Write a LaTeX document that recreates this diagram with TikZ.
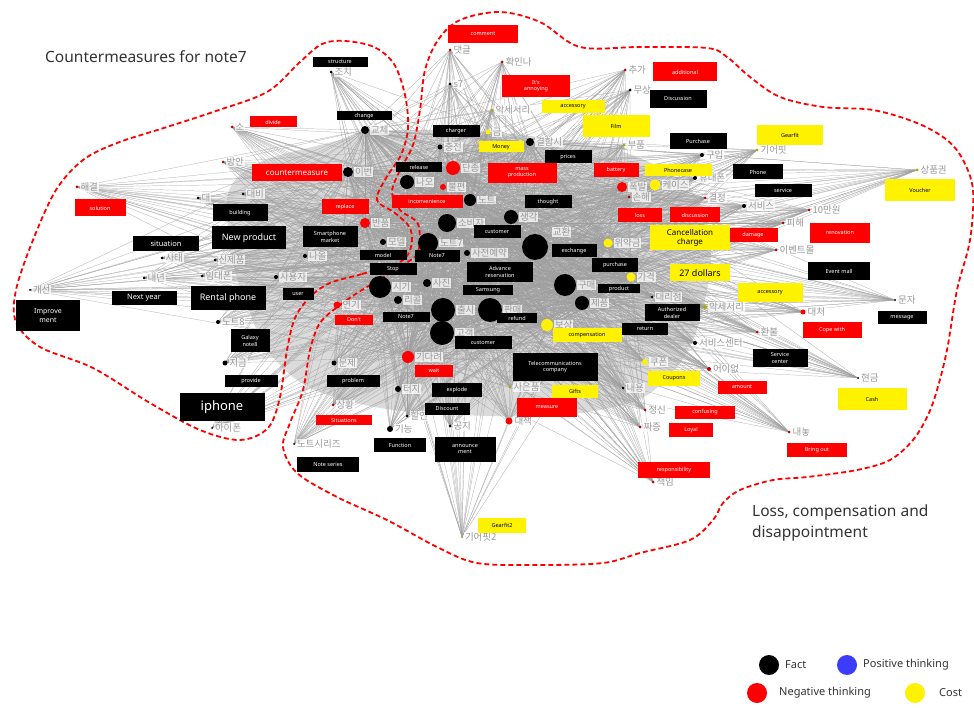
\documentclass[tikz,border=0pt]{standalone}
\usepackage{fontspec}
\newfontfamily\titlefont{Noto Sans}
\newfontfamily\kr{Noto Sans CJK KR}
\usetikzlibrary{backgrounds}
\colorlet{dred}{red!75!black}
\colorlet{oliv}{olive!70!yellow}
\definecolor{posblue}{RGB}{60,60,255}
\newcommand\kd[6]{%
  \node[kdot, fill=#5, minimum size=#4pt] (#1) at (#2,#3) {};
  \node[klab] (#1l) at ([xshift=1pt]#1.east) {#6};}
\newcommand\kdat[8]{%
  \node[kdot, fill=#5, minimum size=#4pt] (#1) at (#2,#3) {};
  \node[klab] (#1l) at (#7,#8) {#6};}
\newcommand\bx[7]{\node[#2, minimum width=#5pt, minimum height=#6pt] (#1) at (#3,#4) {#7};}
\begin{document}
\begin{tikzpicture}[x=1pt,y=-1pt,
  edge/.style={draw=gray!75, line width=0.22pt},
  kdot/.style={circle, inner sep=0pt, draw=none},
  klab/.style={font=\kr\fontsize{9.5}{10}\selectfont, text=gray!80, fill=white, fill opacity=0.75, text opacity=1, inner sep=0.6pt, anchor=west},
  fb/.style={rectangle, fill=black, text=white, inner sep=0.5pt, align=center, font=\titlefont\fontsize{5.5}{6.2}\selectfont},
  nb/.style={fb, fill=red},
  cb/.style={fb, fill=yellow, text=black},
  contour/.style={draw=red, line width=1.8pt, dash pattern=on 5pt off 3pt},
  ttl/.style={font=\titlefont\fontsize{15.5}{20}\selectfont, text=black!80, anchor=west, inner sep=0pt},
  leg/.style={font=\titlefont\fontsize{11}{13}\selectfont, text=black!80, anchor=west, inner sep=0pt},
  legdot/.style={circle, inner sep=0pt, minimum size=20pt}]
\useasboundingbox (0,0) rectangle (974,708);

% ---------- hubs ----------
\kdat{h1}{535}{247}{26}{black}{교환}{552}{232}
\kd{h2}{443}{310}{24}{black}{출시}
\kd{h3}{490}{310}{24}{black}{판매}
\kd{h4}{442}{333}{24}{black}{고객}
\kd{h5}{380}{287}{22}{black}{시기}
\kd{h6}{565}{285}{22}{black}{구매}
\kd{h7}{428}{243}{20}{black}{노트7}
\kd{h8}{447}{223}{18}{black}{소비자}
\kd{h9}{407}{182}{14}{black}{나오}
\kd{h10}{511}{217}{14}{black}{생각}
\kd{h11}{582}{303}{14}{black}{제품}

% ---------- satellites ----------
\kd{s1}{331}{72}{3}{black}{조치}
\kd{s2}{365}{130}{8}{black}{교체}
\kd{s3}{450}{50}{3}{dred}{댓글}
\kd{s4}{502}{62}{3}{dred}{확인나}
\kd{s5}{450}{84}{3}{black}{s7}
\kd{s6}{492}{110}{3}{oliv}{악세서리}
\kd{s7}{488}{132}{5}{yellow}{금}
\kd{s8}{440}{147}{5}{black}{충전}
\kd{s9}{530}{142}{8}{black}{결함시}
\kd{s10}{624}{145}{3}{oliv}{부품}
\kd{s11}{453}{168}{14}{red}{단종}
\kd{s13}{443}{187}{6}{red}{불편}
\kd{s14}{470}{200}{12}{black}{노트}
\kd{s15}{622}{187}{10}{red}{폭발}
\kd{s16}{655}{185}{11}{yellow}{케이스}
\kd{s17}{695}{178}{4}{black}{휴대폰}
\kd{s18}{629}{197}{3}{dred}{손해}
\kd{s19}{705}{198}{3}{dred}{결정}
\kd{s20}{744}{206}{4}{black}{서비스}
\kd{s21}{809}{210}{3}{dred}{10만원}
\kd{s22}{783}{223}{3}{dred}{피해}
\kd{s23}{776}{250}{3}{dred}{이벤트몰}
\kd{s24}{608}{243}{9}{yellow}{위약금}
\kd{s25}{631}{277}{9}{yellow}{가격}
\kd{s26}{652}{297}{3}{black}{대리점}
\kd{s27}{705}{307}{4}{oliv}{악세서리}
\kd{s28}{803}{312}{5}{red}{대처}
\kd{s29}{895}{300}{2}{black}{문자}
\kd{s30}{757}{332}{3}{dred}{환불}
\kd{s31}{695}{343}{4}{black}{서비스센터}
\kd{s32}{645}{362}{6}{yellow}{쿠폰}
\kd{s33}{709}{369}{4}{dred}{어이없}
\kd{s34}{623}{388}{3}{black}{내용}
\kd{s35}{645}{410}{3}{dred}{정신}
\kd{s36}{640}{427}{3}{dred}{짜증}
\kd{s37}{653}{482}{3}{dred}{책임}
\kd{s38}{789}{432}{3}{dred}{내놓}
\kd{s39}{858}{378}{2}{black}{현금}
\kd{s40}{757}{150}{3}{oliv}{기어핏}
\kd{s41}{702}{155}{4}{black}{구입}
\kd{s42}{917}{170}{3}{oliv}{상품권}
\kd{s43}{625}{70}{3}{dred}{추가}
\kd{s44}{630}{90}{3}{black}{무상}
\kd{s45}{547}{325}{12}{yellow}{보상}
\kd{s46}{408}{357}{12}{red}{기다려}
\kd{s47}{334}{363}{5}{black}{문제}
\kd{s48}{510}{387}{3}{oliv}{사은품}
\kd{s49}{509}{421}{7}{red}{대책}
\kd{s50}{398}{389}{6}{black}{터지}
\kd{s51}{407}{416}{3}{black}{할인}
\kd{s52}{333}{405}{3}{dred}{상황}
\kd{s53}{390}{429}{6}{black}{기능}
\kd{s54}{450}{426}{3}{black}{공지}
\kd{s55}{294}{444}{2}{black}{노트시리즈}
\kd{s56}{462}{537}{2}{oliv}{기어핏2}
\kd{s57}{232}{127}{3}{dred}{소}
\kd{s58}{223}{162}{3}{dred}{방안}
\kd{s59}{348}{172}{10}{black}{이번}
\kd{s60}{198}{198}{3}{black}{대}
\kd{s61}{243}{194}{3}{black}{대비}
\kd{s62}{162}{258}{3}{black}{사태}
\kd{s63}{215}{260}{3}{black}{신제품}
\kd{s64}{202}{276}{3}{black}{임대폰}
\kd{s65}{276}{277}{4}{black}{사용자}
\kd{s66}{305}{256}{4}{black}{나올}
\kd{s67}{144}{278}{3}{black}{내년}
\kd{s68}{30}{290}{2}{black}{개선}
\kd{s69}{77}{187}{3}{dred}{해결}
\kd{s70}{218}{322}{4}{black}{노트8}
\kd{s71}{225}{363}{5}{black}{지금}
\kd{s72}{212}{428}{2}{black}{아이폰}
\kd{s73}{365}{223}{10}{red}{반품}
\kd{s74}{383}{242}{6}{black}{모델}
\kd{s75}{467}{253}{6}{black}{사전예약}
\kd{s76}{427}{283}{8}{black}{사진}
\kd{s77}{398}{300}{8}{black}{리콜}
\kd{s78}{337}{305}{7}{red}{연기}

% ---------- boxes ----------
\bx{b1}{fb}{340}{62}{55}{10}{structure}
\bx{b2}{fb}{364}{116}{55}{9}{change}
\bx{b3}{nb}{483}{34}{70}{18}{comment}
\bx{b4}{nb}{536}{86}{68}{22}{It's\\annoying}
\bx{b5}{cb}{573}{107}{63}{13}{accessory}
\bx{b6}{cb}{616}{126}{67}{22}{Film}
\bx{b7}{fb}{456}{131}{47}{12}{charger}
\bx{b8}{cb}{501}{147}{45}{11}{Money}
\bx{b9}{fb}{568}{157}{47}{13}{prices}
\bx{b10}{fb}{419}{167}{46}{10}{release}
\bx{b11}{nb}{522}{173}{69}{20}{mass\\production}
\bx{b12}{nb}{616}{170}{45}{14}{battery}
\bx{b13}{cb}{678}{170}{67}{12}{Phonecase}
\bx{b14}{fb}{698}{141}{57}{16}{Purchase}
\bx{b15}{fb}{678}{99}{57}{18}{Discussion}
\bx{b16}{nb}{685}{72}{64}{19}{additional}
\bx{b17}{cb}{790}{135}{66}{20}{Gearfit}
\bx{b18}{fb}{758}{172}{50}{15}{Phone}
\bx{b19}{fb}{783}{191}{57}{13}{service}
\bx{b20}{cb}{920}{190}{70}{22}{Voucher}
\bx{b21}{nb}{695}{215}{50}{15}{discussion}
\bx{b22}{nb}{640}{215}{44}{14}{loss}
\bx{b23}{nb}{753}{235}{49}{14}{damage}
\bx{b24}{cb,font=\titlefont\fontsize{8}{9.5}\selectfont}{690}{238}{80}{25}{Cancellation\\charge}
\bx{b25}{nb}{840}{233}{60}{20}{renovation}
\bx{b26}{fb}{839}{271}{62}{18}{Event mall}
\bx{b27}{cb,font=\titlefont\fontsize{9}{10}\selectfont}{700}{273}{60}{17}{27 dollars}
\bx{b28}{cb}{770}{293}{65}{19}{accessory}
\bx{b29}{fb}{574}{251}{45}{13}{exchange}
\bx{b30}{fb}{615}{265}{46}{14}{purchase}
\bx{b31}{fb}{619}{289}{42}{9}{product}
\bx{b32}{fb}{672}{313}{55}{17}{Authorized\\dealer}
\bx{b33}{fb}{645}{329}{46}{12}{return}
\bx{b34}{nb}{832}{330}{59}{16}{Cope with}
\bx{b35}{fb}{902}{318}{49}{13}{message}
\bx{b36}{fb}{780}{358}{55}{17}{Service\\center}
\bx{b37}{cb}{674}{378}{52}{15}{Coupons}
\bx{b38}{nb}{742}{387}{49}{13}{amount}
\bx{b39}{nb}{705}{412}{60}{13}{confusing}
\bx{b40}{nb}{691}{430}{44}{14}{Loyal}
\bx{b41}{nb}{674}{470}{72}{16}{responsibility}
\bx{b42}{nb}{817}{450}{60}{14}{Bring out}
\bx{b43}{cb}{872}{399}{69}{22}{Cash}
\bx{b44}{nb}{427}{202}{71}{13}{inconvenience}
\bx{b45}{fb}{548}{202}{47}{13}{thought}
\bx{b46}{fb}{497}{232}{47}{13}{customer}
\bx{b47}{fb}{437}{256}{45}{12}{Note7}
\bx{b48}{nb}{345}{207}{47}{15}{replace}
\bx{b49}{fb}{330}{237}{55}{21}{Smartphone\\market}
\bx{b50}{fb}{383}{255}{47}{10}{model}
\bx{b51}{fb}{393}{269}{47}{12}{Stop}
\bx{b52}{fb}{500}{272}{66}{20}{Advance\\reservation}
\bx{b53}{fb}{488}{290}{50}{10}{Samsung}
\bx{b54}{nb}{354}{320}{38}{10}{Don't}
\bx{b55}{fb}{406}{317}{47}{10}{Note7}
\bx{b56}{fb}{517}{318}{40}{10}{refund}
\bx{b57}{cb}{587}{335}{69}{14}{compensation}
\bx{b58}{fb}{483}{343}{57}{13}{customer}
\bx{b59}{nb}{434}{371}{38}{12}{wait}
\bx{b60}{fb}{353}{381}{53}{12}{problem}
\bx{b61}{fb}{555}{367}{85}{27}{Telecommunications\\company}
\bx{b62}{cb}{575}{391}{46}{13}{Gifts}
\bx{b63}{nb}{547}{407}{60}{19}{measure}
\bx{b64}{fb}{457}{390}{50}{14}{explode}
\bx{b65}{fb}{447}{409}{45}{12}{Discount}
\bx{b66}{nb}{344}{420}{56}{10}{Situations}
\bx{b67}{fb}{400}{445}{52}{14}{Function}
\bx{b68}{fb}{465}{449}{61}{25}{announce\\ment}
\bx{b69}{fb}{328}{464}{62}{15}{Note series}
\bx{b70}{cb}{502}{525}{48}{15}{Gearfit2}
\bx{b71}{nb}{273}{122}{47}{11}{divide}
\bx{b72}{nb,font=\titlefont\fontsize{8}{9}\selectfont}{297}{173}{90}{17}{countermeasure}
\bx{b73}{fb}{240}{213}{55}{17}{building}
\bx{b74}{fb,font=\titlefont\fontsize{9}{10}\selectfont}{249}{238}{74}{23}{New product}
\bx{b75}{fb,font=\titlefont\fontsize{7.5}{8}\selectfont}{166}{244}{66}{15}{situation}
\bx{b76}{fb,font=\titlefont\fontsize{7.5}{8}\selectfont}{144}{298}{65}{14}{Next year}
\bx{b77}{fb,font=\titlefont\fontsize{9}{10}\selectfont}{228}{298}{75}{24}{Rental phone}
\bx{b78}{fb}{298}{294}{31}{12}{user}
\bx{b79}{fb,font=\titlefont\fontsize{7}{9}\selectfont}{48}{316}{64}{31}{Improve\\ment}
\bx{b80}{nb}{100}{208}{51}{17}{solution}
\bx{b81}{fb}{250}{341}{39}{23}{Galaxy\\note8}
\bx{b82}{fb}{251}{381}{53}{12}{provide}
\bx{b83}{fb,font=\titlefont\fontsize{13}{14}\selectfont}{222}{407}{85}{28}{iphone}

% ---------- titles ----------
\node[ttl] (t1) at (45,57) {Countermeasures for note7};
\node[ttl] (t2) at (752,512) {Loss, compensation and};
\node[ttl] (t3) at (752,533) {disappointment};

% ---------- legend ----------
\node[legdot, fill=black] (lg1) at (769,665) {};
\node[leg] (lg1t) at (785,665) {Fact};
\node[legdot, fill=posblue] (lg2) at (847,665) {};
\node[leg] (lg2t) at (863,665) {Positive thinking};
\node[legdot, fill=red] (lg3) at (757,693) {};
\node[leg] (lg3t) at (779,693) {Negative thinking};
\node[legdot, fill=yellow] (lg4) at (915,693) {};
\node[leg] (lg4t) at (939,693) {Cost};

% ---------- edges & contours ----------
\begin{pgfonlayer}{background}
\fill[white] (0,0) rectangle (974,708);
\fill[gray!28] plot[smooth cycle, tension=0.7] coordinates {(240,175) (320,145) (420,130) (560,140) (655,165) (705,215) (705,300) (670,375) (600,410) (460,415) (345,400) (280,365) (245,300) (228,230)};
\foreach \i in {1,...,11,13,14,...,78} {
  \foreach \j in {1,...,11} { \draw[edge] (s\i.center) -- (h\j.center); }
  \foreach \m in {2,9,11,14,24,25,45,46,59,73,75,76} { \draw[edge] (s\i.center) -- (s\m.center); }
}
\foreach \i in {1,...,11} { \foreach \j in {1,...,11} { \draw[edge] (h\i.center) -- (h\j.center); } }
\draw[contour] plot[smooth cycle, tension=0.55] coordinates {(330,283) (362,274) (400,262) (411,247) (410,228) (395,213) (377,200) (386,178) (401,155) (408,128) (405,95) (394,64) (374,47) (345,41) (322,44) (300,62) (267,92) (213,112) (167,127) (117,143) (83,160) (56,190) (33,240) (16,290) (16,322) (40,347) (93,368) (150,403) (200,430) (240,440) (268,428) (280,397) (287,350) (295,318) (310,297)};
\draw[contour] plot[smooth cycle, tension=0.55] coordinates {(320,323) (340,305) (362,290) (403,265) (418,252) (418,224) (400,210) (392,192) (400,170) (413,145) (420,110) (425,70) (438,40) (460,20) (500,12) (540,22) (580,47) (640,47) (707,48) (727,57) (750,77) (780,97) (823,107) (873,110) (917,123) (947,140) (963,160) (973,190) (970,240) (957,290) (947,350) (937,390) (928,415) (913,440) (890,460) (857,470) (807,477) (773,480) (740,490) (723,503) (713,520) (690,540) (640,553) (603,563) (537,565) (477,563) (437,547) (387,520) (337,497) (297,473) (283,447) (290,423) (303,390) (310,350)};
\end{pgfonlayer}
\end{tikzpicture}
\end{document}
